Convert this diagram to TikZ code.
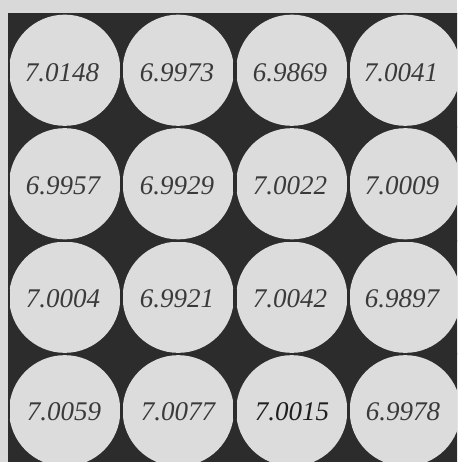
\documentclass[tikz,border=0pt]{standalone}
\usepackage{fontspec}
\setmainfont{Liberation Serif}
\definecolor{bg}{HTML}{D9D9D9}
\definecolor{disk}{HTML}{DCDCDC}
\definecolor{darkfield}{HTML}{2C2C2C}
\definecolor{ink}{HTML}{3A3A3A}
\begin{document}
\begin{tikzpicture}[x=1pt,y=-1pt,
  val/.style={inner sep=0pt,font=\fontsize{27}{27}\selectfont\itshape,text=ink},
  strong/.style={text=black!88},
  gapline/.style={draw=darkfield,line width=2pt},
  tanbar/.style={draw=darkfield,line width=3.6pt}]
\useasboundingbox (0,0) rectangle (457,462);
\fill[bg] (0,0) rectangle (457,462);
\begin{scope}
\clip (8,13.5) rectangle (457,462);
\fill[darkfield] (8,13.5) rectangle (480,480);
% disks
\foreach \cx in {64.75,178.25,291.75,405.25}
  \foreach \cy in {70.25,183.75,297.25,410.75}
    \fill[disk] (\cx,\cy) circle[radius=55.6];
% gap lines along the grid
\foreach \gx in {8,121.5,235,348.5}
  \draw[gapline] (\gx,13.5) -- (\gx,470);
\foreach \gy in {13.5,127,240.5,354}
  \draw[gapline] (8,\gy) -- (470,\gy);
% short bars where disks meet side by side
\foreach \gx in {8,121.5,235,348.5}
  \foreach \cy in {70.25,183.75,297.25,410.75}
    \draw[tanbar] (\gx,\cy-8.5) -- (\gx,\cy+8.5);
\end{scope}
% values
\node[val] (a1) at (62,73) {7.0148};
\node[val] (a2) at (177,73) {6.9973};
\node[val] (a3) at (290,73) {6.9869};
\node[val] (a4) at (401,73) {7.0041};
\node[val] (b1) at (63,186) {6.9957};
\node[val] (b2) at (177,186) {6.9929};
\node[val] (b3) at (290,186) {7.0022};
\node[val] (b4) at (402,186) {7.0009};
\node[val] (c1) at (63,299) {7.0004};
\node[val] (c2) at (177,299) {6.9921};
\node[val] (c3) at (290,299) {7.0042};
\node[val] (c4) at (402,299) {6.9897};
\node[val] (d1) at (64,412) {7.0059};
\node[val] (d2) at (178,412) {7.0077};
\node[val,strong] (d3) at (292,412) {7.0015};
\node[val] (d4) at (403,412) {6.9978};
\end{tikzpicture}
\end{document}
